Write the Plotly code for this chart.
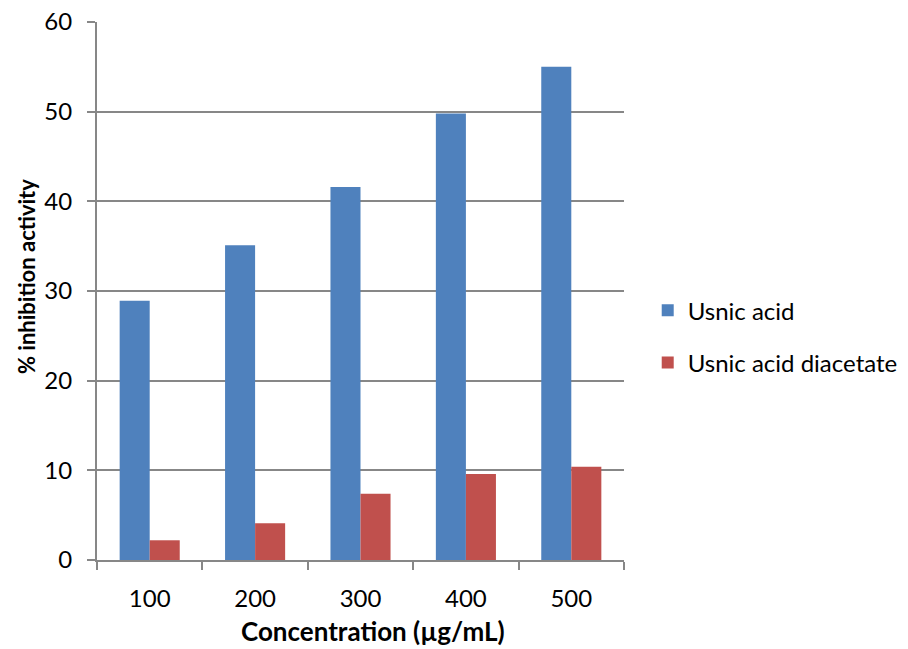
import plotly.graph_objects as go

# Concentrations tested and % inhibition for each compound
concentrations = ["100", "200", "300", "400", "500"]
usnic_acid = [28.9, 35.1, 41.6, 49.8, 55.0]
usnic_acid_diacetate = [2.2, 4.1, 7.4, 9.6, 10.4]
y_ticks = [0, 10, 20, 30, 40, 50, 60]

FONT = "Lato"
GRID = "#878787"

fig = go.Figure()
fig.add_trace(go.Bar(
    x=concentrations, y=usnic_acid, name="Usnic acid",
    marker=dict(color="#4F81BD", line=dict(width=0)),
    legendgroup="a",
))
fig.add_trace(go.Bar(
    x=concentrations, y=usnic_acid_diacetate, name="Usnic acid diacetate",
    marker=dict(color="#C0504D", line=dict(width=0)),
    legendgroup="b",
))

# plot area: x 97..624 px, y 22..560 px
PW, PH = 527, 538

fig.update_layout(
    width=908, height=649,
    margin=dict(l=97, r=284, t=22, b=89, autoexpand=False),
    paper_bgcolor="white", plot_bgcolor="white",
    barmode="group", bargap=0.43, bargroupgap=0,
    font=dict(family=FONT, size=24, color="#000000"),
    showlegend=True,
    legend=dict(
        x=1.045, y=0.415, xanchor="left", yanchor="middle",
        font=dict(family=FONT, size=24),
        tracegroupgap=18, itemwidth=30,
        bgcolor="rgba(0,0,0,0)",
    ),
    annotations=[
        dict(
            text="<b>% inhibition activity</b>",
            xref="paper", yref="paper",
            x=(26 - 97) / PW, y=(560 - 277) / PH,
            xanchor="center", yanchor="middle",
            textangle=-90, showarrow=False,
            font=dict(family=FONT, size=22),
        ),
        dict(
            text="<b>Concentration (µg/mL)</b>",
            xref="paper", yref="paper",
            x=(373 - 97) / PW, y=(560 - 631) / PH,
            xanchor="center", yanchor="middle",
            showarrow=False,
            font=dict(family=FONT, size=26),
        ),
    ],
)

fig.update_xaxes(
    type="category", range=[-0.5, 4.5], automargin=False,
    showline=True, linecolor=GRID, linewidth=2,
    ticks="outside", tickson="boundaries", ticklen=8, tickwidth=2, tickcolor=GRID,
    ticklabelstandoff=16,
    showgrid=False, zeroline=False,
)
fig.update_yaxes(
    range=[0, 60], tickvals=y_ticks, automargin=False,
    showline=True, linecolor=GRID, linewidth=2,
    ticks="outside", ticklen=8, tickwidth=2, tickcolor=GRID,
    ticklabelstandoff=10,
    showgrid=True, gridcolor=GRID, gridwidth=2,
    zeroline=False,
)

fig.write_html("out.html")
